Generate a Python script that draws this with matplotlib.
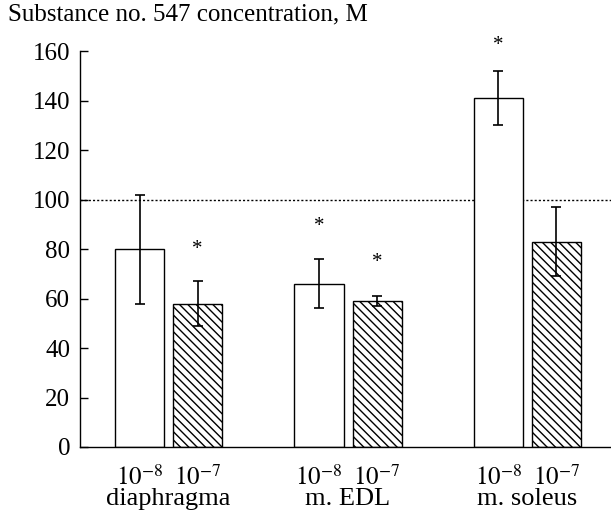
""" bar chart: substance no. 547 """
import matplotlib
matplotlib.use('Agg')
import matplotlib.pyplot as plt
import numpy as np

plt.rcParams['font.family'] = ['Liberation Serif', 'DejaVu Serif']
plt.rcParams['mathtext.fontset'] = 'stix'
plt.rcParams['hatch.linewidth'] = 1.0

groups = ['diaphragma', 'm. EDL', 'm. soleus']
conc_labels = ['$10^{-8}$', '$10^{-7}$']
low_vals = [80, 66, 141]      # 10^-8
low_err = [22, 10, 11]
high_vals = [58, 59, 83]      # 10^-7
high_err = [9, 2, 14]
# asterisk heights (None = no mark)
low_star = [None, 89, 162.5]
high_star = [80, 74.5, None]
control_level = 100


def draw():
    fig = plt.figure(figsize=(6.11, 5.12), dpi=100)
    ax = fig.add_axes([0.131, 0.127, 0.869, 0.773])

    x = np.arange(len(groups))
    off = 0.162
    w = 0.274
    err_kw = dict(ecolor='black', elinewidth=1.2, capsize=3.6, capthick=1.2)
    ax.bar(x - off, low_vals, w, yerr=low_err, color='white',
           edgecolor='black', linewidth=1.0, error_kw=err_kw, zorder=2)
    ax.bar(x + off, high_vals, w, yerr=high_err, color='white',
           edgecolor='black', linewidth=1.0, hatch='\\\\\\\\',
           error_kw=err_kw, zorder=2)

    ax.axhline(control_level, color='black', linestyle=(0, (1.5, 1.5)),
               linewidth=1.0, zorder=1)

    for i in range(len(groups)):
        if low_star[i] is not None:
            ax.text(x[i] - off, low_star[i], '*', ha='center', va='center',
                    fontsize=15, clip_on=False)
        if high_star[i] is not None:
            ax.text(x[i] + off, high_star[i], '*', ha='center', va='center',
                    fontsize=15, clip_on=False)

    ax.set_xlim(-0.494, 2.466)
    ax.set_ylim(0, 160)
    ax.set_yticks(np.arange(0, 161, 20))
    ax.tick_params(axis='y', direction='in', length=6, width=1.0,
                   labelsize=18, pad=7)
    ax.tick_params(axis='x', length=0, labelsize=18, pad=13)

    ticks = []
    labels = []
    for i in range(len(groups)):
        ticks += [x[i] - off, x[i] + off]
        labels += conc_labels
    ax.set_xticks(ticks)
    ax.set_xticklabels(labels)

    for i, g in enumerate(groups):
        ax.text(x[i], -0.146, g, transform=ax.get_xaxis_transform(),
                ha='center', va='baseline', fontsize=19)

    ax.spines['top'].set_visible(False)
    ax.spines['right'].set_visible(False)
    ax.spines['left'].set_linewidth(1.0)
    ax.spines['bottom'].set_linewidth(1.0)

    fig.text(0.013, 0.972, 'Substance no. 547 concentration, M',
             ha='left', va='center', fontsize=18)

    fig.savefig('out.png', dpi=100)


if __name__ == '__main__':
    draw()
